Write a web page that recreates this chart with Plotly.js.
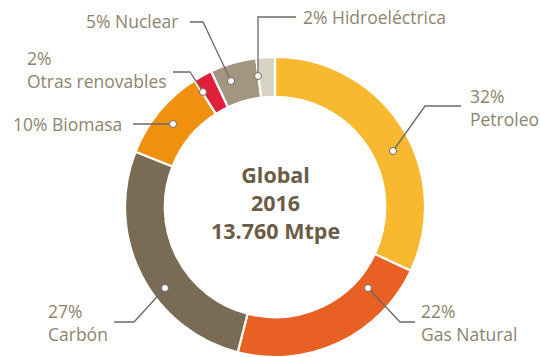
<!DOCTYPE html>
<html>
<head>
<meta charset="utf-8">
<script src="https://cdn.plot.ly/plotly-3.0.1.min.js"></script>
<style>html,body{margin:0;padding:0;background:#fff}#chart{width:540px;height:357px}</style>
</head>
<body>
<div id="chart"></div>
<script>
// ---- data ----
const categories = ['Petroleo', 'Gas Natural', 'Carbón', 'Biomasa', 'Otras renovables', 'Nuclear', 'Hidroeléctrica'];
const shares = [32, 22, 27, 10, 2, 5, 2];
const centerTitle = ['Global', '2016', '13.760 Mtpe'];

// ---- styles / layout helpers ----
const colors = ['#F8B830', '#E86024', '#7A6B54', '#F0900F', '#E0203A', '#A39680', '#D8D3C3'];
const textColor = '#8E8370';
const lineColor = '#6E6A64';
const fontFam = '"Open Sans", Lato, sans-serif';

// label placement (pixel space): text anchor, two-line?, leader path, dot
const labelCfg = [
  {x: 469, y: 107, twoLine: true,  path: [[461, 106], [425, 106], [393, 151]], dot: [393, 151]},
  {x: 420, y: 322, twoLine: true,  path: [[415, 322], [400, 322], [368, 288]], dot: [368, 288]},
  {x: 47,  y: 322, twoLine: true,  path: [[114, 322], [134, 322], [165, 288]], dot: [165, 288]},
  {x: 12,  y: 124, twoLine: false, path: [[133, 124], [173, 124]], dot: [173, 124]},
  {x: 26,  y: 69,  twoLine: true,  path: [[173, 72], [190, 72], [203, 92]], dot: [203, 92]},
  {x: 85,  y: 21,  twoLine: false, path: [[190, 22], [203, 22], [231, 81]], dot: [231, 81]},
  {x: 302, y: 17,  twoLine: false, path: [[296, 17], [258, 17], [258, 76]], dot: [258, 76]}
];

const W = 540, H = 357;
const cx = 275, cy = 207, R = 150;

const pie = {
  type: 'pie',
  labels: categories,
  values: shares,
  sort: false,
  direction: 'clockwise',
  rotation: 0,
  hole: 0.735,
  textinfo: 'none',
  hoverinfo: 'label+percent',
  showlegend: false,
  marker: {colors: colors, line: {color: '#ffffff', width: 2.2}},
  domain: {x: [(cx - R) / W, (cx + R) / W], y: [(H - cy - R) / H, (H - cy + R) / H]}
};

const shapes = [];
const annotations = [];
labelCfg.forEach((c, i) => {
  const d = 'M ' + c.path.map(p => p[0] + ',' + p[1]).join(' L ');
  shapes.push({type: 'path', xref: 'x', yref: 'y', path: d, line: {color: lineColor, width: 1.3}, layer: 'above'});
  shapes.push({type: 'circle', xref: 'x', yref: 'y', x0: c.dot[0] - 3.5, x1: c.dot[0] + 3.5, y0: c.dot[1] - 3.5, y1: c.dot[1] + 3.5,
    fillcolor: '#ffffff', line: {color: lineColor, width: 1}, layer: 'above'});
  const txt = c.twoLine ? (shares[i] + '%<br>' + categories[i]) : (shares[i] + '% ' + categories[i]);
  annotations.push({x: c.x, y: c.y, xref: 'x', yref: 'y', text: txt, showarrow: false, xanchor: 'left', yanchor: 'middle',
    align: 'left', font: {family: fontFam, size: 17.5, color: textColor}, borderpad: 0});
});
annotations.push({x: cx, y: 202, xref: 'x', yref: 'y', text: centerTitle.map(s => '<b>' + s + '</b>').join('<br>'),
  showarrow: false, xanchor: 'center', yanchor: 'middle', align: 'center',
  font: {family: fontFam, size: 21.5, color: '#6B5D45'}, borderpad: 0});

const layout = {
  width: W, height: H,
  margin: {l: 0, r: 0, t: 0, b: 0},
  paper_bgcolor: '#ffffff', plot_bgcolor: 'rgba(0,0,0,0)',
  xaxis: {range: [0, W], visible: false, fixedrange: true},
  yaxis: {range: [H, 0], visible: false, fixedrange: true},
  shapes: shapes,
  annotations: annotations,
  showlegend: false
};

Plotly.newPlot('chart', [pie], layout, {displayModeBar: false, staticPlot: true});
</script>
</body>
</html>
